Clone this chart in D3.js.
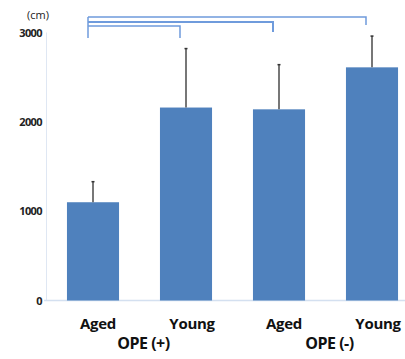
<!DOCTYPE html>
<html><head><meta charset="utf-8">
<script src="https://cdn.jsdelivr.net/npm/d3@7"></script>
<style>body{margin:0;background:#fff}svg{display:block}</style>
</head><body>
<script>
const categories = ["Aged", "Young", "Aged", "Young"];
const groups = ["OPE (+)", "OPE (-)"];
const values = [1100, 2160, 2140, 2610];
const errors = [230, 660, 500, 350];
const tickValues = [0, 1000, 2000, 3000];
const unitLabel = "(cm)";
// significance brackets: [fromIndex, toIndex]
const brackets = [[0, 3], [0, 2], [0, 1]];

const W = 405, H = 359;
const svg = d3.select("body").append("svg").attr("width", W).attr("height", H);

const y = d3.scaleLinear().domain([0, 3000]).range([300.5, 32.5]);
const x = d3.scaleBand().domain(d3.range(categories.length)).range([46.5, 418.5]).paddingInner(0.44).paddingOuter(0.22);

// axes lines
svg.append("line").attr("x1", 46.5).attr("x2", 46.5).attr("y1", y(3000)).attr("y2", y(0))
  .attr("stroke", "#dfe7f3").attr("stroke-width", 1);
svg.append("line").attr("x1", 44).attr("x2", W).attr("y1", y(0)).attr("y2", y(0))
  .attr("stroke", "#d4e0f0").attr("stroke-width", 1.5);

// tick labels
svg.selectAll("text.tick").data(tickValues).enter().append("text")
  .attr("class", "tick")
  .attr("x", 42).attr("y", d => y(d) + 4)
  .attr("text-anchor", "end")
  .attr("font-family", "Open Sans, sans-serif").attr("font-weight", "bold")
  .attr("font-size", 11).attr("letter-spacing", -0.6).attr("fill", "#222")
  .text(d => d);

svg.append("text").attr("x", 38).attr("y", 19).attr("text-anchor", "middle")
  .attr("font-family", "Open Sans, sans-serif").attr("font-size", 11).attr("fill", "#222")
  .text(unitLabel);

// bars
svg.selectAll("rect.bar").data(values).enter().append("rect")
  .attr("x", (d, i) => x(i)).attr("width", x.bandwidth())
  .attr("y", d => y(d)).attr("height", d => y(0) - y(d))
  .attr("fill", "#4f81bd");

// error bars
svg.selectAll("line.err").data(values).enter().append("line")
  .attr("x1", (d, i) => x(i) + x.bandwidth() / 2).attr("x2", (d, i) => x(i) + x.bandwidth() / 2)
  .attr("y1", d => y(d)).attr("y2", (d, i) => y(d + errors[i]))
  .attr("stroke", "#555").attr("stroke-width", 1.6);
svg.selectAll("line.cap").data(values).enter().append("line")
  .attr("x1", (d, i) => x(i) + x.bandwidth() / 2 - 1.5).attr("x2", (d, i) => x(i) + x.bandwidth() / 2 + 1.5)
  .attr("y1", (d, i) => y(d + errors[i])).attr("y2", (d, i) => y(d + errors[i]))
  .attr("stroke", "#333").attr("stroke-width", 1.5);

// brackets
const bY = [17, 22, 26];
const bEnd = [25, 32, 38];
const lx = x(0) + x.bandwidth() / 2 - 5;
brackets.forEach((b, k) => {
  const rx = x(b[1]) + x.bandwidth() / 2 - 6;
  svg.append("path")
    .attr("d", `M${lx},${bY[k]} H${rx} V${bEnd[k]}`)
    .attr("fill", "none").attr("stroke", "#6f9bdc").attr("stroke-width", k === 1 ? 2 : 1.5);
});
svg.append("line").attr("x1", lx).attr("x2", lx).attr("y1", bY[0]).attr("y2", 38)
  .attr("stroke", "#6f9bdc").attr("stroke-width", 1.5);

// category labels
svg.selectAll("text.cat").data(categories).enter().append("text")
  .attr("x", (d, i) => x(i) + x.bandwidth() / 2 + (i % 2 === 0 ? 5 : 6))
  .attr("y", 329).attr("text-anchor", "middle")
  .attr("font-family", "Open Sans, sans-serif").attr("font-weight", "bold")
  .attr("font-size", 15).attr("letter-spacing", -0.3).attr("fill", "#111")
  .text(d => d);

svg.selectAll("text.grp").data(groups).enter().append("text")
  .attr("x", (d, i) => (x(2 * i) + x(2 * i + 1) + x.bandwidth()) / 2 + 4)
  .attr("y", 349).attr("text-anchor", "middle")
  .attr("font-family", "Open Sans, sans-serif").attr("font-weight", "bold")
  .attr("font-size", 16).attr("letter-spacing", -0.5).attr("fill", "#111")
  .text(d => d);
</script>
</body></html>
